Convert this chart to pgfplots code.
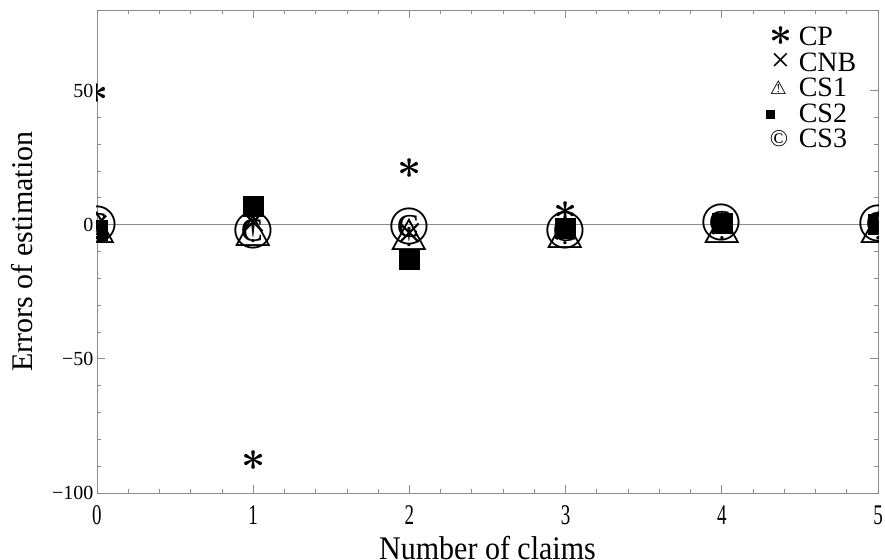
\documentclass[border=0pt]{standalone}
\usepackage{graphicx}
\usepackage{fontspec}
\setmainfont{Liberation Serif}
\newfontfamily\dejavu{DejaVu Sans}
\usepackage{pgfplots}
\pgfplotsset{compat=1.18}

\begin{document}
\begin{tikzpicture}
\begin{axis}[
  scale only axis, width=781pt, height=483pt,
  xmin=0, xmax=5, ymin=-100, ymax=80,
  xtick={0,1,2,3,4,5},
  ytick={-100,-50,0,50},
  yticklabels={−100,−50,0,50},
  minor x tick num=4, minor y tick num=4,
  tick align=inside, tick pos=both,
  major tick length=8pt, minor tick length=4pt,
  axis line style={black!45, line width=0.8pt},
  tick style={black!45, line width=0.8pt},
  yticklabel style={font=\fontsize{20}{20}\selectfont, black},
  xticklabel style={font=\fontsize{19}{19}\selectfont, black, yscale=1.5, yshift=-5pt},
  /pgf/number format/assume math mode=true,
  xlabel={Number of claims}, ylabel={Errors of estimation},
  label style={font=\fontsize{30}{30}\selectfont},
  xlabel style={at={(axis description cs:0.5,-0.137)}, anchor=base, yscale=1.1},
  ylabel style={at={(axis description cs:-0.083,0.5)}, anchor=base},
  clip marker paths=true,
  legend style={at={(rel axis cs:0.849,0.969)}, anchor=north west, draw=none, fill=none,
    font=\fontsize{28}{28}\selectfont, row sep=1.5pt, inner sep=0pt},
  legend cell align=left,
]
\addplot[black!45, line width=0.6pt, forget plot] coordinates {(0,0) (5,0)};

\addplot[only marks, mark=text, text mark={\scalebox{4.2}{\boldmath$\ast$}},
  legend image code/.code={\path[draw=none, fill=none] (0,-4pt) rectangle (36.5pt,4pt);
    \node[overlay, inner sep=0pt, font=\fontsize{10}{12}\selectfont] at (9.5pt,0) {\scalebox{4}{\boldmath$\ast$}};}]
  coordinates {(0,49) (1,-88) (2,21) (3,5) (4,0.5) (5,0)};
\addlegendentry{CP}

\addplot[only marks, mark=x, mark size=13pt, line width=2.2pt, black,
  legend image code/.code={\path[draw=none, fill=none] (0,-4pt) rectangle (36.5pt,4pt);
    \node[overlay, inner sep=0pt, font=\fontsize{34}{34}\selectfont] at (9.5pt,0) {×};}]
  coordinates {(0,0) (1,1) (2,-3) (3,-2) (4,0) (5,0)};
\addlegendentry{CNB}

\addplot[only marks, mark=text, text mark={\fontsize{44}{44}\selectfont\dejavu ⚠},
  legend image code/.code={\path[draw=none, fill=none] (0,-4pt) rectangle (36.5pt,4pt);
    \node[overlay, inner sep=0pt, font=\fontsize{19}{19}\selectfont] at (9.5pt,0) {\dejavu ⚠};}]
  coordinates {(0,-1) (1,-2) (2,-3.5) (3,-3) (4,-1) (5,-1)};
\addlegendentry{CS1}

\addplot[only marks, mark=square*, mark size=10pt, black,
  legend image code/.code={\path[draw=none, fill=none] (0,-4pt) rectangle (36.5pt,4pt);
    \fill[black] (9.5pt-4pt,-4pt) rectangle (9.5pt+4pt,4pt);}]
  coordinates {(0,-2) (1,6.7) (2,-13) (3,-1.5) (4,0.5) (5,0)};
\addlegendentry{CS2}

\addplot[only marks, mark=text, text mark={\fontsize{55}{55}\selectfont ©},
  legend image code/.code={\path[draw=none, fill=none] (0,-4pt) rectangle (36.5pt,4pt);
    \node[overlay, inner sep=0pt, font=\fontsize{24}{24}\selectfont] at (9.5pt,0) {©};}]
  coordinates {(0,0) (1,-2) (2,-0.6) (3,-2) (4,1) (5,0.3)};
\addlegendentry{CS3}

\coordinate (sw) at (rel axis cs:0,0);
\coordinate (ne) at (rel axis cs:1,1);
\end{axis}
\pgfresetboundingbox
\path ([shift={(-97pt,-66pt)}]sw) rectangle ([shift={(7pt,10pt)}]ne);
\end{tikzpicture}
\end{document}
